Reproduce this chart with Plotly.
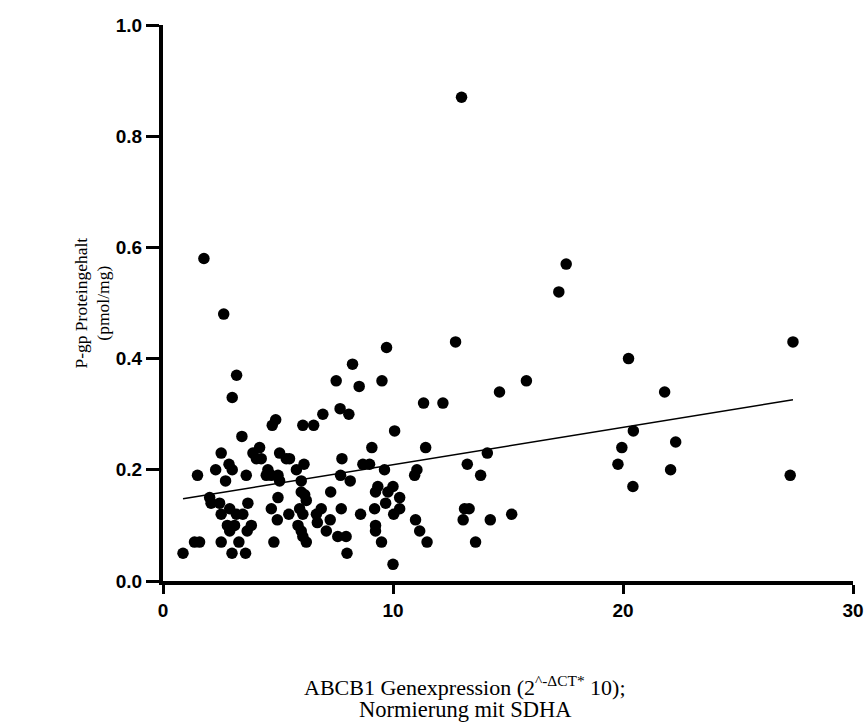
import numpy as np
import plotly.graph_objects as go

# ABCB1 expression (x) vs P-gp protein content (y)
abcb1 = [12.98, 1.78, 2.64, 3.2, 9.72, 8.24, 17.53, 17.21, 12.72, 27.39,
         20.24, 3.01, 7.53, 8.53, 9.52, 15.8, 14.63, 21.81, 11.33, 12.17,
         4.9, 4.75, 6.08, 6.55, 6.95, 7.7, 8.08, 10.07, 3.43, 20.45,
         11.42, 9.08, 14.1, 19.95, 22.29, 2.53, 4.2, 3.91, 4.06, 4.27,
         5.07, 5.36, 5.5, 7.78, 8.69, 8.98, 6.13, 5.8, 2.29, 2.87,
         3.01, 1.5, 2.72, 3.62, 4.56, 4.49, 4.71, 5.0, 5.07, 6.01,
         7.72, 8.14, 9.63, 11.04, 10.94, 13.23, 13.81, 19.78, 22.07, 20.43,
         27.27, 2.03, 2.09, 2.46, 2.9, 3.69, 2.53, 3.19, 3.47, 2.8,
         3.11, 2.9, 3.84, 3.66, 4.71, 5.0, 4.97, 5.47, 6.01, 6.16,
         6.23, 5.94, 6.08, 5.87, 6.01, 6.08, 6.23, 1.37, 1.59, 2.53,
         3.3, 4.82, 0.87, 3.0, 3.59, 7.29, 6.88, 6.67, 6.71, 7.1,
         7.27, 7.75, 7.6, 7.96, 8.0, 8.59, 9.34, 10.0, 9.24, 9.78,
         10.29, 9.68, 10.29, 10.03, 9.2, 9.24, 9.24, 9.5, 10.0, 10.98,
         11.16, 11.48, 13.05, 13.11, 13.31, 14.23, 15.16, 13.59]
pgp = [0.87, 0.58, 0.48, 0.37, 0.42, 0.39, 0.57, 0.52, 0.43, 0.43,
       0.40, 0.33, 0.36, 0.35, 0.36, 0.36, 0.34, 0.34, 0.32, 0.32,
       0.29, 0.28, 0.28, 0.28, 0.30, 0.31, 0.30, 0.27, 0.26, 0.27,
       0.24, 0.24, 0.23, 0.24, 0.25, 0.23, 0.24, 0.23, 0.22, 0.22,
       0.23, 0.22, 0.22, 0.22, 0.21, 0.21, 0.21, 0.20, 0.20, 0.21,
       0.20, 0.19, 0.18, 0.19, 0.20, 0.19, 0.19, 0.19, 0.18, 0.18,
       0.19, 0.18, 0.20, 0.20, 0.19, 0.21, 0.19, 0.21, 0.20, 0.17,
       0.19, 0.15, 0.14, 0.14, 0.13, 0.14, 0.12, 0.12, 0.12, 0.10,
       0.10, 0.09, 0.10, 0.09, 0.13, 0.15, 0.11, 0.12, 0.16, 0.155,
       0.145, 0.13, 0.12, 0.10, 0.09, 0.08, 0.07, 0.07, 0.07, 0.07,
       0.07, 0.07, 0.05, 0.05, 0.05, 0.16, 0.13, 0.12, 0.105, 0.09,
       0.11, 0.13, 0.08, 0.08, 0.05, 0.12, 0.17, 0.17, 0.16, 0.16,
       0.15, 0.14, 0.13, 0.12, 0.13, 0.10, 0.09, 0.07, 0.03, 0.11,
       0.09, 0.07, 0.11, 0.13, 0.13, 0.11, 0.12, 0.07]

x_title = ["ABCB1 Genexpression (2<sup>^-ΔCT*</sup> 10);", "Normierung mit SDHA"]
y_title = "P-gp Proteingehalt<br>(pmol/mg)"

slope, intercept = np.polyfit(abcb1, pgp, 1)
fit_x = np.array([min(abcb1), max(abcb1)])
fit_y = intercept + slope * fit_x

fig = go.Figure()
fig.add_trace(go.Scatter(x=abcb1, y=pgp, mode="markers",
                         marker=dict(color="black", size=11.5)))
fig.add_trace(go.Scatter(x=fit_x, y=fit_y, mode="lines",
                         line=dict(color="black", width=1.5)))

tick_font = dict(family="Liberation Sans, Arial", size=19, color="black", weight="bold")
serif = "Liberation Serif, Times New Roman"

fig.update_layout(
    width=867, height=724,
    margin=dict(l=163, r=14, t=25, b=143),
    plot_bgcolor="white", paper_bgcolor="white",
    showlegend=False,
    xaxis=dict(range=[0, 30], tickvals=[0, 10, 20, 30], showgrid=False, zeroline=False,
               showline=True, linecolor="black", linewidth=4,
               ticks="outside", ticklen=9, tickwidth=3, tickcolor="black",
               tickfont=tick_font, automargin=False),
    yaxis=dict(range=[0, 1.0], tickvals=[0, 0.2, 0.4, 0.6, 0.8, 1.0],
               ticktext=["0.0", "0.2", "0.4", "0.6", "0.8", "1.0"],
               showgrid=False, zeroline=False,
               showline=True, linecolor="black", linewidth=4,
               ticks="outside", ticklen=13, tickwidth=3, tickcolor="black",
               tickfont=tick_font, automargin=False),
    annotations=[
        dict(text=x_title[0], xref="paper", yref="paper", x=0.438, y=-0.189,
             xanchor="center", yanchor="middle", showarrow=False,
             font=dict(family=serif, size=22, color="black")),
        dict(text=x_title[1], xref="paper", yref="paper", x=0.438, y=-0.231,
             xanchor="center", yanchor="middle", showarrow=False,
             font=dict(family=serif, size=22.5, color="black")),
        dict(text=y_title, textangle=-90,
             xref="paper", yref="paper", x=-0.1035, y=0.5,
             xanchor="center", yanchor="middle", showarrow=False,
             font=dict(family=serif, size=17.5, color="black")),
    ],
)

fig.write_html("out.html", config={"displayModeBar": False},
               post_script="document.body.style.margin = '0';")
